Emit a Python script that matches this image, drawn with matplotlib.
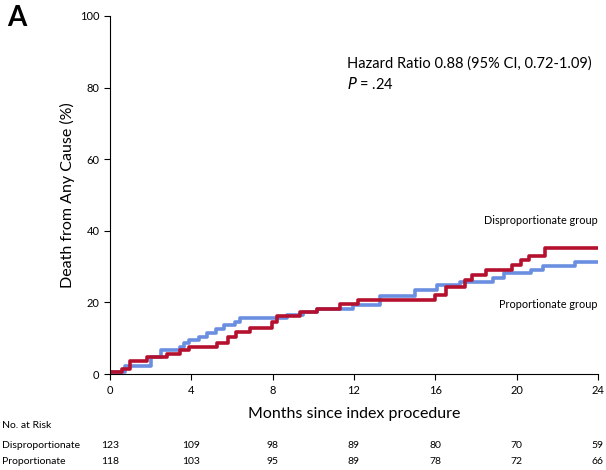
import matplotlib.pyplot as plt

plt.rcParams['font.family'] = ['Lato', 'DejaVu Sans']

# step times (months) and cumulative death (%)
prop_t = [0, 0.74, 2.0, 2.5, 3.45, 3.65, 3.9, 4.4, 4.75, 5.2, 5.6, 6.15, 6.4, 8.7, 9.5, 10.2, 11.96, 13.3, 15.0, 16.1, 17.2, 18.85, 19.4, 20.7, 21.3, 22.9, 24]
prop_y = [0.5, 2.2, 4.7, 6.7, 7.6, 8.7, 9.5, 10.4, 11.5, 12.5, 13.7, 14.6, 15.6, 16.5, 17.4, 18.3, 19.3, 21.7, 23.5, 24.9, 25.8, 26.7, 28.1, 29.2, 30.2, 31.4, 31.4]
disp_t = [0, 0.57, 1.0, 1.8, 2.8, 3.45, 3.9, 5.25, 5.8, 6.2, 6.9, 7.95, 8.2, 9.35, 10.2, 11.3, 12.2, 16.0, 16.55, 17.45, 17.8, 18.5, 19.8, 20.2, 20.6, 21.4, 24]
disp_y = [0.5, 1.4, 3.7, 4.8, 5.7, 6.7, 7.5, 8.6, 10.4, 11.8, 13.0, 14.6, 16.2, 17.4, 18.3, 19.7, 20.7, 22.1, 24.2, 26.3, 27.7, 29.2, 30.4, 31.8, 33.0, 35.1, 35.1]

risk_months = [0, 4, 8, 12, 16, 20, 24]
risk_disp = [123, 109, 98, 89, 80, 70, 59]
risk_prop = [118, 103, 95, 89, 78, 72, 66]

fig = plt.figure(figsize=(6.06, 4.70), dpi=100)
ax = fig.add_axes([0.1815, 0.204, 0.805, 0.762])

ax.step(prop_t, prop_y, where='post', color='#6B8FE0', lw=2.6)
ax.step(disp_t, disp_y, where='post', color='#B5112F', lw=2.6)

ax.set_xlim(0, 24)
ax.set_ylim(0, 100)
ax.set_xticks(risk_months)
ax.set_yticks([0, 20, 40, 60, 80, 100])
ax.tick_params(labelsize=8, length=4)
for s in ['top', 'right']:
    ax.spines[s].set_visible(False)
ax.set_ylabel('Death from Any Cause (%)', fontsize=11.5)
ax.set_xlabel('Months since index procedure', fontsize=11.5, labelpad=8)

ax.text(11.65, 85.5, 'Hazard Ratio 0.88 (95% CI, 0.72-1.09)', fontsize=10.5)
ax.text(11.65, 79.5, '$\\it{P}$ = .24', fontsize=10.5)
ax.text(24, 42, 'Disproportionate group', fontsize=7.8, ha='right')
ax.text(24, 18.5, 'Proportionate group', fontsize=7.8, ha='right')

fig.text(0.012, 0.962, 'A', fontsize=20, fontweight='bold', va='center')

fig.text(0.004, 1 - 426 / 470, 'No. at Risk', fontsize=7.5, va='center')
for label, vals, yp in [('Disproportionate', risk_disp, 446), ('Proportionate', risk_prop, 462)]:
    fig.text(0.004, 1 - yp / 470, label, fontsize=7.5, va='center')
    for m, v in zip(risk_months, vals):
        x = ax.transData.transform((m, 0))[0] / fig.bbox.width
        fig.text(x, 1 - yp / 470, str(v), fontsize=7.5, va='center', ha='center')

fig.savefig('out.png')
